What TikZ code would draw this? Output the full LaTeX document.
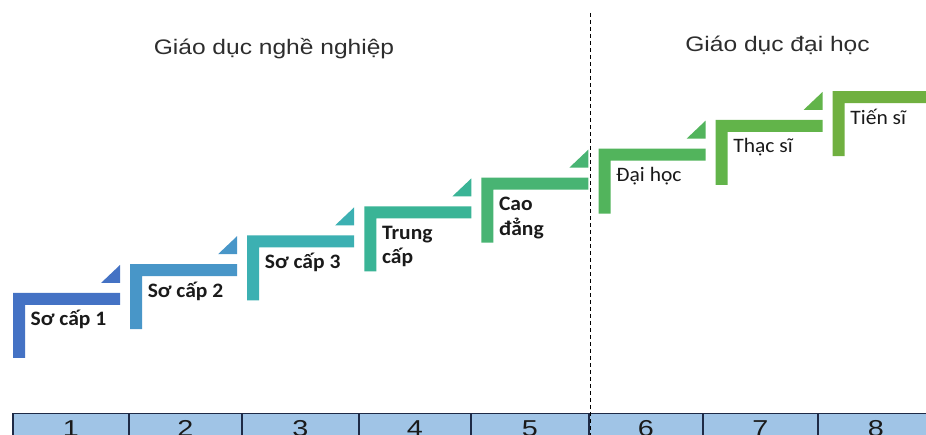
\documentclass[tikz,border=0pt]{standalone}
\usepackage{fontspec}
\setmainfont{Liberation Sans}
\newfontfamily\lblfont[FakeStretch=1.05]{Carlito}
\newfontfamily\titlefont[FakeStretch=1.17]{Liberation Sans}
\newfontfamily\numfont[FakeStretch=1.25]{Liberation Sans}
\definecolor{sA}{RGB}{68,114,196}
\definecolor{sB}{RGB}{72,150,200}
\definecolor{sC}{RGB}{60,176,178}
\definecolor{sD}{RGB}{58,180,150}
\definecolor{sE}{RGB}{72,180,115}
\definecolor{sF}{RGB}{82,180,92}
\definecolor{sG}{RGB}{98,180,74}
\definecolor{sH}{RGB}{112,176,64}
\definecolor{lbltext}{RGB}{26,26,26}
\definecolor{titletext}{RGB}{45,45,45}
\definecolor{cellfill}{RGB}{160,196,230}
\definecolor{cellborder}{RGB}{30,42,70}
\begin{document}
\begin{tikzpicture}[x=1pt,y=-1pt,
  lbl/.style={anchor=base west, inner sep=0pt, text=lbltext,
    font=\lblfont\bfseries\fontsize{20.5}{24}\selectfont},
  lblr/.style={lbl, font=\lblfont\fontsize{20.5}{24}\selectfont},
  titlelbl/.style={anchor=base, inner sep=0pt, text=titletext,
    font=\titlefont\fontsize{21}{25}\selectfont},
  cell/.style={draw=cellborder, fill=cellfill, line width=1.5pt,
    anchor=north west, minimum height=50pt, inner sep=0pt},
  num/.style={anchor=base, inner sep=0pt, text=lbltext,
    font=\numfont\fontsize{23}{26}\selectfont},
  divider/.style={draw=black, line width=1.2pt, dash pattern=on 4pt off 3pt}
]
\useasboundingbox (0,0) rectangle (926,435);
\clip (0,0) rectangle (926,435);
\fill[white] (0,0) rectangle (926,435);

% steps
\foreach \i/\c in {0/sA,1/sB,2/sC,3/sD,4/sE,5/sF,6/sG,7/sH}{
  \pgfmathsetmacro\L{13+117.1*\i}
  \pgfmathsetmacro\T{293-28.85*\i}
  \fill[\c] (\L,\T) -- ++(107,0) -- ++(0,12) -- ++(-95,0) -- ++(0,53) -- ++(-12,0) -- cycle;
  \coordinate (p\i) at (\L+17.5,\T+33);
}
% small triangles (the last one lies beyond the right edge)
\foreach \i/\c in {0/sA,1/sB,2/sC,3/sD,4/sE,5/sF,6/sG}{
  \pgfmathsetmacro\L{13+117.1*\i}
  \pgfmathsetmacro\T{293-28.85*\i}
  \fill[\c] (\L+88,\T-10) -- (\L+107,\T-10) -- (\L+107,\T-28) -- cycle;
}

\node[lbl] (l1) at (p0) {Sơ cấp 1};
\node[lbl] (l2) at (p1) {Sơ cấp 2};
\node[lbl] (l3) at (p2) {Sơ cấp 3};
\node[lbl] (l4) at (p3) {\begin{tabular}[t]{@{}l@{}}Trung\\cấp\end{tabular}};
\node[lbl] (l5) at (p4) {\begin{tabular}[t]{@{}l@{}}Cao\\đẳng\end{tabular}};
\node[lblr] (l6) at (p5) {Đại học};
\node[lblr] (l7) at (p6) {Thạc sĩ};
\node[lblr] (l8) at (p7) {Tiến sĩ};

% titles
\node[titlelbl] (t1) at (274,55) {Giáo dục nghề nghiệp};
\node[titlelbl] (t2) at (777.5,52) {Giáo dục đại học};

% table
\node[cell, minimum width=116pt] (c1) at (12,412.5) {};
\node[cell, minimum width=113pt] (c2) at (128,412.5) {};
\node[cell, minimum width=117pt] (c3) at (241,412.5) {};
\node[cell, minimum width=112pt] (c4) at (358,412.5) {};
\node[cell, minimum width=118pt] (c5) at (470,412.5) {};
\node[cell, minimum width=114pt] (c6) at (588,412.5) {};
\node[cell, minimum width=115pt] (c7) at (702,412.5) {};
\node[cell, minimum width=116pt] (c8) at (817,412.5) {};
\foreach \k in {1,...,8}{
  \node[num] (n\k) at ([yshift=-24pt]c\k.north) {\k};
}

% divider
\coordinate (dtop) at (590.5,13);
\coordinate (dbot) at (590.5,435);
\draw[divider] (dtop) -- (dbot);
\end{tikzpicture}
\end{document}
